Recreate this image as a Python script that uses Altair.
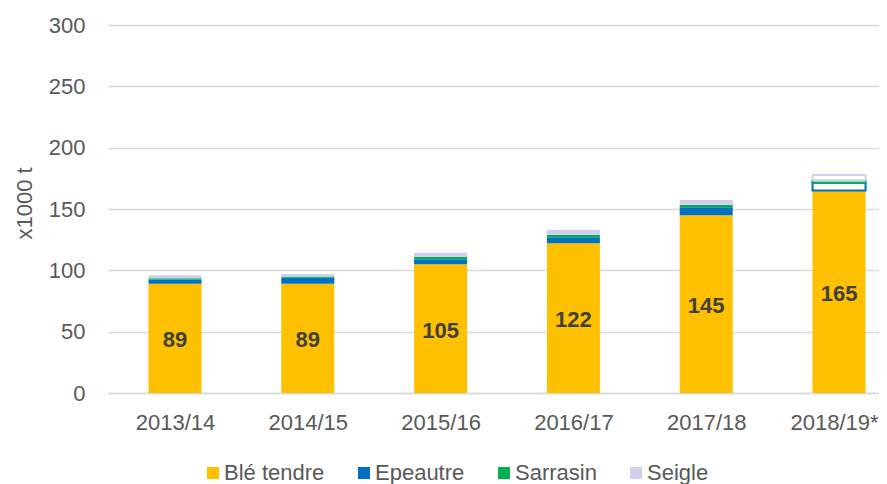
import altair as alt
import pandas as pd

seasons = ["2013/14", "2014/15", "2015/16", "2016/17", "2017/18", "2018/19*"]
ble_tendre = [89, 89, 105, 122, 145, 165]
epeautre = [3.5, 5, 4, 5, 6.5, 6.5]
sarrasin = [1, 1, 2, 2, 2, 2]
seigle = [2.5, 2, 3.3, 4, 3.8, 4.3]
crops = ["Blé tendre", "Epeautre", "Sarrasin", "Seigle"]
colors = ["#FFC000", "#0070C0", "#00B050", "#D0D0EE"]
forecast_season = "2018/19*"
y_ticks = [0, 50, 100, 150, 200, 250, 300]

rows = []
for i, s in enumerate(seasons):
    base = 0.0
    for crop, vals in zip(crops, [ble_tendre, epeautre, sarrasin, seigle]):
        v = vals[i]
        rows.append(dict(season=s, idx=i, crop=crop, value=v, y0=base, y1=base + v,
                         mid=base + v / 2,
                         outline=(s == forecast_season and crop != "Blé tendre")))
        base += v
df = pd.DataFrame(rows)

grey = "#595959"
font = "Liberation Sans"
label_expr = "[" + ",".join("'" + s + "'" for s in seasons) + "][datum.value]"
last_idx = len(seasons) - 1

x_scale = alt.Scale(domain=[-0.5045, 5.301], nice=False, zero=False, padding=0)
y_scale = alt.Scale(domain=[0, 300], nice=False)

x_axis = alt.Axis(values=list(range(len(seasons))), labelExpr=label_expr,
                  title=None, grid=False, ticks=False, tickSize=0,
                  domainColor="#D9D9D9", domainWidth=1.5,
                  labelFontSize=22, labelColor=grey, labelFont=font,
                  labelPadding=19, labelFlush=False, labelOverlap=False,
                  labelBound=False,
                  labelOffset={"condition": {"test": f"datum.value == {last_idx}", "value": -5},
                               "value": 0})
y_axis = alt.Axis(values=y_ticks, title="x1000 t", grid=True,
                  gridColor="#D9D9D9", gridWidth=1.5, domain=False,
                  ticks=False, tickSize=0, labelPadding=23,
                  labelFontSize=22, labelColor=grey, labelFont=font,
                  titleFontSize=22, titleColor=grey, titleFont=font,
                  titleFontWeight="normal", titleX=-84, titleY=178,
                  titleBaseline="middle")

x_enc = alt.X("idx:Q", scale=x_scale, axis=x_axis)

solid = alt.Chart(df).transform_filter("!datum.outline").mark_bar(width=53).encode(
    x=x_enc, y=alt.Y("y0:Q", scale=y_scale, axis=y_axis), y2="y1:Q",
    color=alt.Color("crop:N", scale=alt.Scale(domain=crops, range=colors), sort=crops,
                    legend=alt.Legend(title=None, orient="none", legendX=94, legendY=437,
                                      direction="horizontal", symbolType="square",
                                      symbolSize=144, symbolStrokeWidth=0,
                                      labelFontSize=22, labelColor=grey, labelFont=font,
                                      labelOffset=0, columnPadding=28, padding=0)))

outline = alt.Chart(df).transform_filter("datum.outline").mark_bar(
    width=53, fill="white", strokeWidth=2).encode(
    x=x_enc, y=alt.Y("y0:Q", scale=y_scale, axis=y_axis), y2="y1:Q",
    stroke=alt.Stroke("crop:N", scale=alt.Scale(domain=crops, range=colors), legend=None))

labels = alt.Chart(df).transform_filter("datum.crop == 'Blé tendre'").mark_text(
    fontSize=22, fontWeight="bold", color="#404040", font=font, baseline="middle", dy=2).encode(
    x=x_enc, y=alt.Y("mid:Q", scale=y_scale, axis=y_axis),
    text=alt.Text("value:Q", format="d"))

chart = alt.layer(solid, outline, labels).properties(
    width=771, height=368,
    padding={"left": 100, "top": 17, "right": 0, "bottom": 91},
    autosize=alt.AutoSizeParams(type="none"),
    background="white",
).configure(font=font).configure_view(stroke="transparent")

chart.save("out.html", embed_options={"renderer": "svg", "actions": False})
